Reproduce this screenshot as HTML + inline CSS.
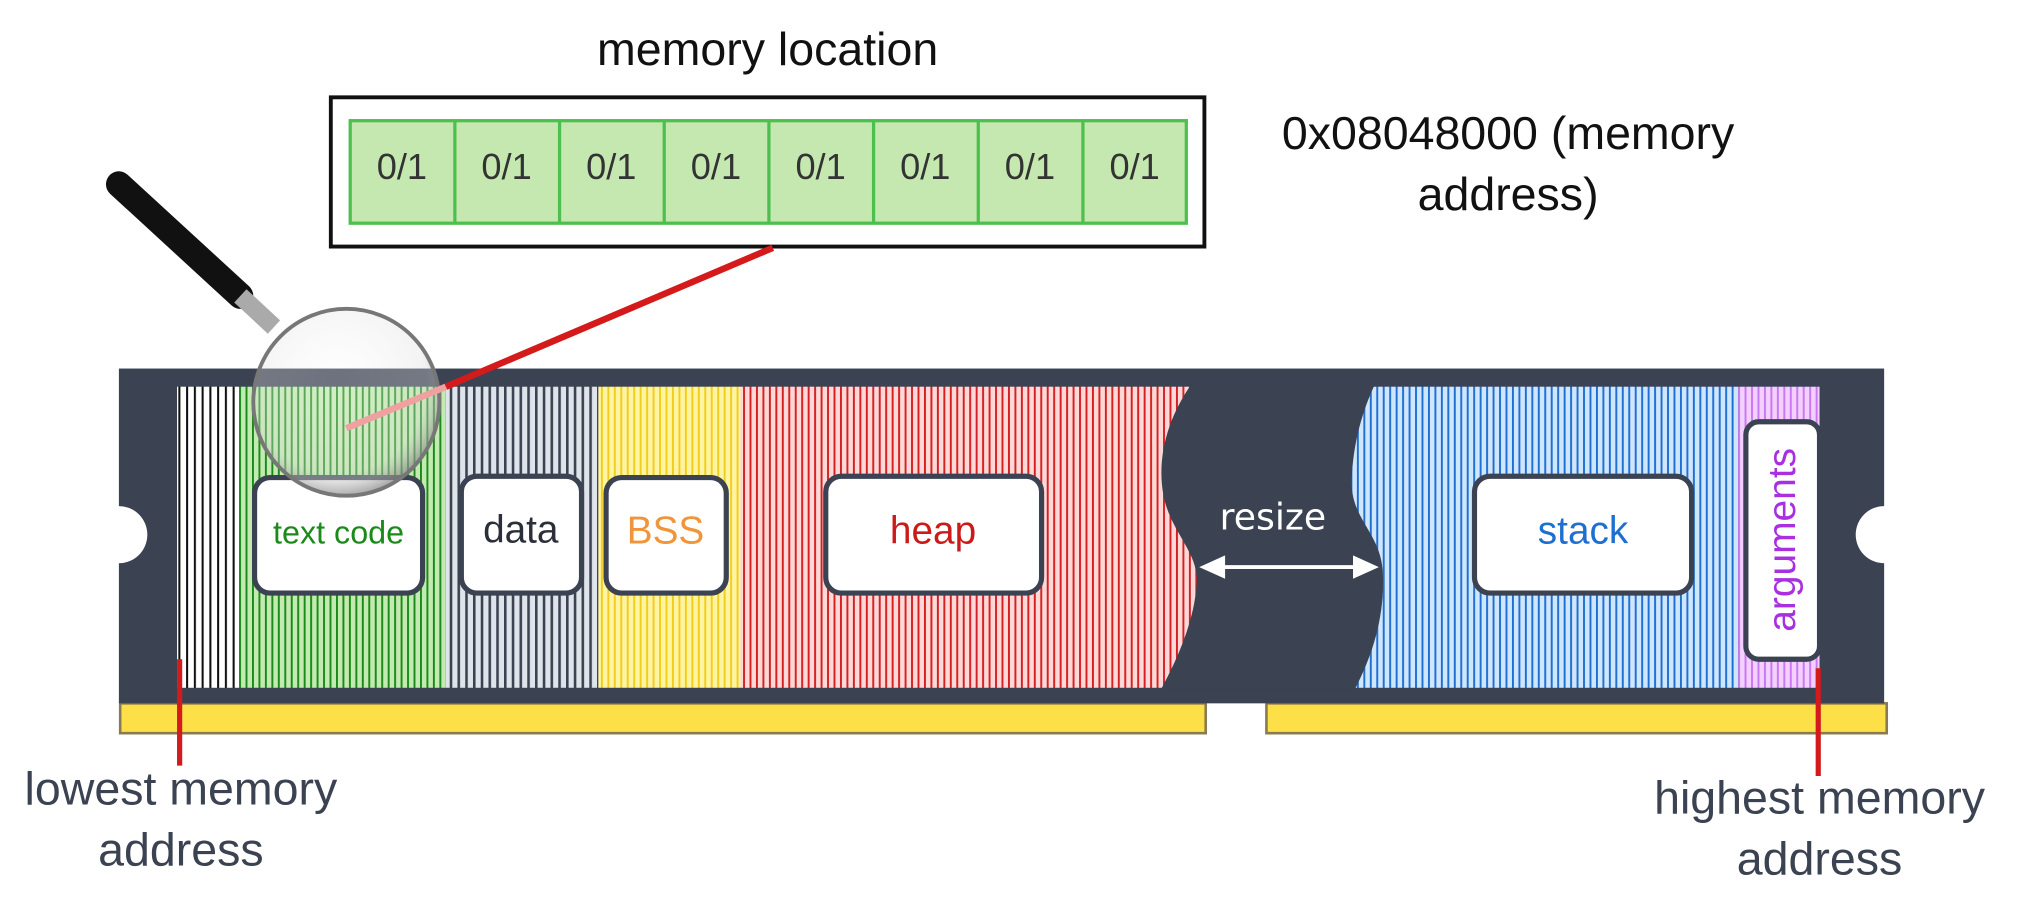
<!DOCTYPE html>
<html><head><meta charset="utf-8"><style>html,body{margin:0;padding:0;background:#fff}svg{display:block}</style></head>
<body>
<svg width="2025" height="898" viewBox="0 0 1567 692" preserveAspectRatio="none" xmlns="http://www.w3.org/2000/svg" font-family="Liberation Sans, sans-serif">
<defs>
<pattern id="pw" width="6" height="10" patternUnits="userSpaceOnUse"><rect width="6" height="10" fill="#fff"/><rect x="0" width="1.6" height="10" fill="#111"/></pattern>
<pattern id="pg" width="5" height="10" patternUnits="userSpaceOnUse"><rect width="5" height="10" fill="#c3eab0"/><rect x="0" width="1.5" height="10" fill="#1a8a1a"/></pattern>
<pattern id="pgr" width="6" height="10" patternUnits="userSpaceOnUse"><rect width="6" height="10" fill="#dfe3ea"/><rect x="0" width="2" height="10" fill="#3b4252"/></pattern>
<pattern id="py" width="5" height="10" patternUnits="userSpaceOnUse"><rect width="5" height="10" fill="#fff4a0"/><rect x="0" width="1.5" height="10" fill="#f2cc20"/></pattern>
<pattern id="pr" width="5" height="10" patternUnits="userSpaceOnUse"><rect width="5" height="10" fill="#ffd8d8"/><rect x="0" width="1.5" height="10" fill="#d42020"/></pattern>
<pattern id="pb" width="5" height="10" patternUnits="userSpaceOnUse"><rect width="5" height="10" fill="#cfe6ff"/><rect x="0" width="1.5" height="10" fill="#1f6fd0"/></pattern>
<pattern id="pp" width="5" height="10" patternUnits="userSpaceOnUse"><rect width="5" height="10" fill="#f3d0ff"/><rect x="0" width="1.5" height="10" fill="#c878f0"/></pattern>
<radialGradient id="lens" cx="0.45" cy="0.4" r="0.6"><stop offset="0" stop-color="#fff" stop-opacity="0.25"/><stop offset="0.8" stop-color="#ddd" stop-opacity="0.35"/><stop offset="1" stop-color="#888" stop-opacity="0.7"/></radialGradient>
</defs>

<text x="594" y="50" font-size="36" text-anchor="middle" fill="#111">memory location</text>
<rect x="256" y="75" width="676" height="115" fill="#fff" stroke="#111" stroke-width="3"/>
<g font-size="28" fill="#333" text-anchor="middle">
<rect x="271" y="93" width="647" height="79" fill="#c5e8b0" stroke="#4cbf4c" stroke-width="2.5"/>
<line x1="352" y1="93" x2="352" y2="172" stroke="#4cbf4c" stroke-width="2.5"/>
<line x1="433" y1="93" x2="433" y2="172" stroke="#4cbf4c" stroke-width="2.5"/>
<line x1="514" y1="93" x2="514" y2="172" stroke="#4cbf4c" stroke-width="2.5"/>
<line x1="595" y1="93" x2="595" y2="172" stroke="#4cbf4c" stroke-width="2.5"/>
<line x1="676" y1="93" x2="676" y2="172" stroke="#4cbf4c" stroke-width="2.5"/>
<line x1="757" y1="93" x2="757" y2="172" stroke="#4cbf4c" stroke-width="2.5"/>
<line x1="838" y1="93" x2="838" y2="172" stroke="#4cbf4c" stroke-width="2.5"/>
<text x="311" y="138">0/1</text><text x="392" y="138">0/1</text><text x="473" y="138">0/1</text><text x="554" y="138">0/1</text>
<text x="635" y="138">0/1</text><text x="716" y="138">0/1</text><text x="797" y="138">0/1</text><text x="878" y="138">0/1</text>
</g>
<text x="1167" y="115" font-size="36" text-anchor="middle" fill="#111">0x08048000 (memory</text>
<text x="1167" y="162" font-size="36" text-anchor="middle" fill="#111">address)</text>

<rect x="93" y="542" width="840" height="23" fill="#fde047" stroke="#8a7a50" stroke-width="2"/>
<rect x="980" y="542" width="480" height="23" fill="#fde047" stroke="#8a7a50" stroke-width="2"/>

<rect x="92" y="284" width="1366" height="258" fill="#3b4252"/>
<circle cx="92" cy="412" r="22" fill="#fff"/>
<circle cx="1458" cy="412" r="22" fill="#fff"/>

<rect x="137" y="298" width="48" height="232" fill="url(#pw)"/>
<rect x="185" y="298" width="160" height="232" fill="url(#pg)"/>
<rect x="345" y="298" width="118" height="232" fill="url(#pgr)"/>
<rect x="463" y="298" width="110" height="232" fill="url(#py)"/>
<rect x="573" y="298" width="360" height="232" fill="url(#pr)"/>
<rect x="1040" y="298" width="305" height="232" fill="url(#pb)"/>
<rect x="1345" y="298" width="63" height="232" fill="url(#pp)"/>
<path d="M922 296 C905 320 895 350 900 380 C905 410 928 425 926 450 C924 480 910 510 898 532 L1048 532 C1062 505 1072 475 1070 440 C1068 410 1045 400 1046 370 C1047 340 1055 315 1064 296 Z" fill="#3b4252"/>
<text x="985" y="408" font-size="28" font-family="DejaVu Sans, sans-serif" text-anchor="middle" fill="#fff">resize</text>
<line x1="945" y1="437" x2="1050" y2="437" stroke="#fff" stroke-width="3"/>
<polygon points="928,437 948,428 948,446" fill="#fff"/>
<polygon points="1067,437 1047,428 1047,446" fill="#fff"/>

<g stroke="#3b4252" stroke-width="4" fill="#fff">
<rect x="197" y="368" width="130" height="89" rx="12"/>
<rect x="357" y="367" width="93" height="90" rx="12"/>
<rect x="469" y="368" width="93" height="89" rx="12"/>
<rect x="639" y="367" width="167" height="90" rx="12"/>
<rect x="1141" y="367" width="168" height="90" rx="12"/>
<rect x="1351" y="325" width="57" height="183" rx="10"/>
</g>
<text x="262" y="419" font-size="25" text-anchor="middle" fill="#1a8a1a">text code</text>
<text x="403" y="418" font-size="30" text-anchor="middle" fill="#2b2f3a">data</text>
<text x="515" y="419" font-size="30" text-anchor="middle" fill="#f0953a">BSS</text>
<text x="722" y="419" font-size="30" text-anchor="middle" fill="#cc1a1a">heap</text>
<text x="1225" y="419" font-size="30" text-anchor="middle" fill="#1f6fd0">stack</text>
<text transform="translate(1389,416) rotate(-90)" font-size="30" text-anchor="middle" fill="#a830e0">arguments</text>

<line x1="598" y1="191" x2="345" y2="298" stroke="#d41a1a" stroke-width="5"/>
<line x1="92" y1="142" x2="186" y2="228" stroke="#111" stroke-width="20" stroke-linecap="round"/>
<line x1="186" y1="228" x2="212" y2="252" stroke="#aaa" stroke-width="14"/>
<circle cx="268" cy="310" r="72" fill="url(#lens)" stroke="#777" stroke-width="3"/>
<line x1="345" y1="298" x2="268" y2="330" stroke="#f0a0a0" stroke-width="5"/>

<line x1="139" y1="508" x2="139" y2="590" stroke="#d41a1a" stroke-width="4"/>
<line x1="1407" y1="515" x2="1407" y2="598" stroke="#d41a1a" stroke-width="4"/>
<g font-size="36" fill="#3b4252" text-anchor="middle">
<text x="140" y="620">lowest memory</text>
<text x="140" y="667">address</text>
<text x="1408" y="627">highest memory</text>
<text x="1408" y="674">address</text>
</g>
</svg>
</body></html>
